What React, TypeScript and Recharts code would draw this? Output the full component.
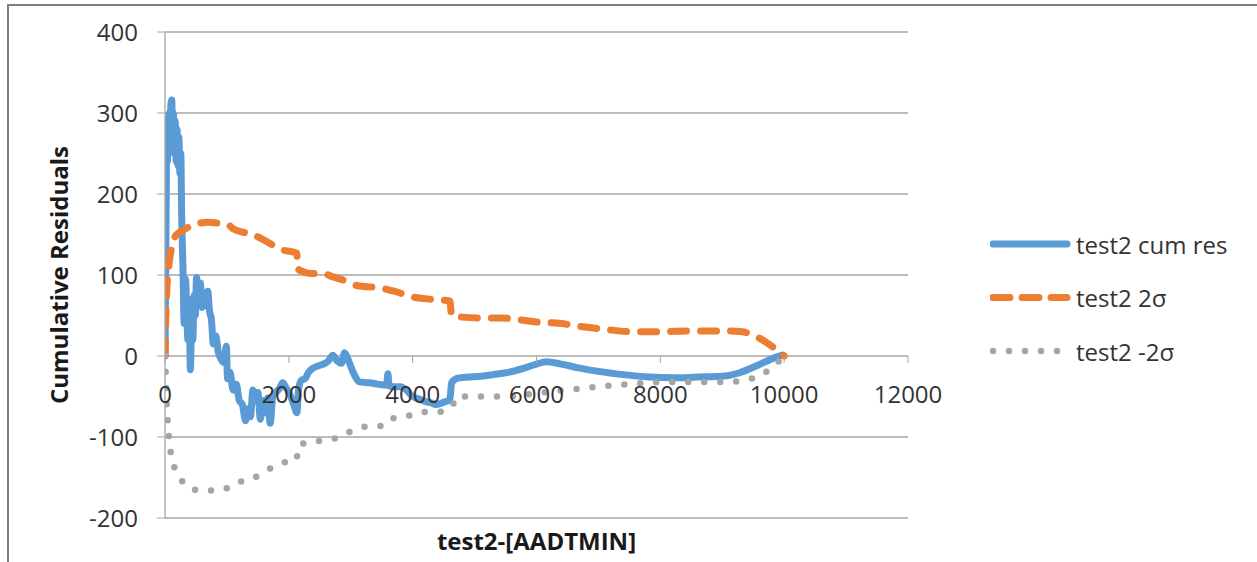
import React from "react";
import {
  LineChart,
  Line,
  XAxis,
  YAxis,
  CartesianGrid,
  Legend,
  ReferenceDot,
} from "recharts";

// cumulative residuals (blue)
const cumResX = [
  0, 10, 20, 30, 40, 50, 60, 70, 80, 95, 110, 120, 135, 150, 165, 180, 195, 210,
  225, 240, 255, 270, 290, 310, 330, 350, 370, 390, 410, 430, 450, 470, 490,
  510, 540, 570, 600, 630, 660, 690, 720, 750, 780, 820, 860, 900, 950, 990,
  1010, 1050, 1100, 1150, 1200, 1250, 1300, 1340, 1380, 1420, 1460, 1500, 1540,
  1580, 1620, 1660, 1700, 1740, 1790, 1850, 1900, 1960, 2020, 2080, 2130, 2160,
  2200, 2260, 2320, 2390, 2480, 2560, 2640, 2710, 2780, 2850, 2900, 2960, 3050,
  3140, 3300, 3450, 3580, 3600, 3620, 3700, 3800, 3900, 4000, 4100, 4200, 4300,
  4390, 4500, 4600, 4630, 4700, 4760, 4900, 5100, 5300, 5560, 5800, 6000, 6160,
  6400, 6700, 7000, 7400, 7820, 8200, 8600, 9000, 9270, 9500, 9700, 9850, 9970,
];
const cumResY = [
  0, 90, 200, 280, 240, 295, 250, 300, 260, 310, 316, 270, 300, 250, 290, 240,
  280, 235, 270, 225, 250, 170, 110, 40, 95, 60, 20, 70, -17, 40, 20, 75, 50,
  97, 70, 90, 60, 78, 62, 80, 55, 45, 15, 25, 5, -3, -8, 12, -28, -20, -42, -35,
  -55, -60, -80, -65, -75, -42, -55, -45, -78, -55, -70, -52, -83, -50, -45,
  -40, -33, -40, -48, -60, -70, -40, -30, -28, -20, -15, -12, -10, -6, 1, -6,
  -9, 4, -5, -22, -32, -33, -35, -36, -22, -37, -38, -38, -42, -50, -53, -56,
  -58, -60, -57, -54, -33, -28, -27, -26, -25, -23, -20, -15, -10, -7, -10, -15,
  -19, -23, -26, -27, -26, -25, -21, -14, -7, -2, 1,
];

// upper 2 sigma bound (orange)
const sigmaX = [
  0, 10, 30, 60, 80, 120, 160, 220, 290, 400, 560, 700, 850, 1000, 1100, 1250,
  1370, 1530, 1740, 1900, 2130, 2140, 2200, 2340, 2550, 2700, 2870, 3100, 3470,
  3700, 4000, 4300, 4600, 4630, 4800, 5100, 5400, 5700, 6000, 6400, 6750, 7100,
  7550, 8000, 8500, 9060, 9320, 9600, 9800, 10000,
];
const sigmaY = [
  0, 40, 81, 110, 122, 138, 147, 152, 155, 160, 164, 165, 164, 163, 157, 153,
  151, 146, 137, 131, 127, 108, 105, 102, 102, 98, 94, 87, 84, 80, 73, 70, 68,
  50, 48, 47, 47, 45, 42, 40, 36, 33, 30, 30, 31, 31, 30, 22, 12, 0,
];

// lower 2 sigma bound (grey)
const negSigmaX = [
  0, 10, 20, 40, 80, 130, 210, 320, 450, 700, 940, 1130, 1340, 1530, 1720, 1900,
  2130, 2140, 2340, 2610, 2820, 3060, 3270, 3550, 3680, 3920, 4160, 4400, 4630,
  4710, 4970, 5510, 6000, 6480, 7290, 8100, 9060, 9560, 9790, 10000,
];
const negSigmaY = [
  0, -17, -45, -75, -112, -132, -147, -158, -165, -166, -165, -157, -153, -147,
  -138, -132, -128, -112, -106, -104, -100, -91, -87, -86, -77, -74, -69, -69,
  -63, -50, -50, -50, -46, -42, -36, -32, -32, -26, -15, 0,
];

const xTicks = [0, 2000, 4000, 6000, 8000, 10000, 12000];
const yTicks = [-200, -100, 0, 100, 200, 300, 400];
const seriesNames = ["test2 cum res", "test2 2σ", "test2 -2σ"];

const seriesStyles = [
  { color: "#5b9bd5", width: 7, dash: undefined as string | undefined },
  { color: "#ed7d31", width: 7, dash: "16 14" },
  { color: "#a5a5a5", width: 6.5, dash: "0 16" },
];

const toPoints = (xs: number[], ys: number[]) =>
  xs.map((x, i) => ({ x, y: ys[i] }));

const seriesData = [
  toPoints(cumResX, cumResY),
  toPoints(sigmaX, sigmaY),
  toPoints(negSigmaX, negSigmaY),
];

const gridColor = "#a6a6a6";
const textColor = "#333333";

const LegendBox = () => (
  <svg width={267} height={162} style={{ display: "block" }}>
    {seriesNames.map((name, i) => {
      const s = seriesStyles[i];
      const cy = 26 + i * 53.5;
      return (
        <g key={name}>
          <line
            x1={3}
            x2={77}
            y1={cy}
            y2={cy}
            stroke={s.color}
            strokeWidth={s.width}
            strokeDasharray={i === 1 ? "17 12" : s.dash}
            strokeLinecap="round"
          />
          <text
            x={86}
            y={cy}
            dominantBaseline="central"
            fontSize={24}
            fill={textColor}
          >
            {name}
          </text>
        </g>
      );
    })}
  </svg>
);

const XTickAtZero = (value: number) => (props: any) => {
  const { cx, cy } = props;
  return (
    <g>
      <line x1={cx} x2={cx} y1={cy} y2={cy + 7} stroke={gridColor} />
      <text
        x={cx}
        y={cy + 47}
        textAnchor="middle"
        fontSize={24}
        fill={textColor}
      >
        {value}
      </text>
    </g>
  );
};

export default function App() {
  return (
    <div style={{ fontFamily: "'Open Sans', sans-serif" }}>
      <div
        style={{
          position: "absolute",
          left: 7,
          top: 4,
          width: 1248,
          height: 556,
          borderTop: "2px solid #7f7f7f",
          borderLeft: "2px solid #7f7f7f",
        }}
      />
      <div style={{ position: "absolute", left: 0, top: 0 }}>
        <LineChart
          width={1257}
          height={562}
          margin={{ top: 32, right: 82, bottom: 0, left: 0 }}
        >
          <CartesianGrid
            vertical={false}
            stroke={gridColor}
            strokeWidth={1.3}
          />
          <XAxis
            type="number"
            dataKey="x"
            domain={[0, 12000]}
            ticks={xTicks}
            allowDataOverflow
            height={44}
            axisLine={false}
            tickLine={false}
            tick={false}
            label={{
              value: "test2-[AADTMIN]",
              position: "insideBottom",
              offset: 12,
              style: { fontSize: 24, fontWeight: 700, fill: "#1a1a1a" },
            }}
          />
          <YAxis
            type="number"
            domain={[-200, 400]}
            ticks={yTicks}
            width={165}
            tickSize={8}
            tickMargin={19}
            axisLine={{ stroke: gridColor, strokeWidth: 1.3 }}
            tickLine={{ stroke: gridColor }}
            tick={{ fontSize: 24, fill: textColor }}
            label={{
              value: "Cumulative Residuals",
              angle: -90,
              position: "insideLeft",
              offset: 59,
              style: {
                textAnchor: "middle",
                fontSize: 24,
                fontWeight: 700,
                fill: "#1a1a1a",
              },
            }}
          />
          {xTicks.map((t) => (
            <ReferenceDot
              key={t}
              x={t}
              y={0}
              r={0}
              ifOverflow="visible"
              shape={XTickAtZero(t)}
            />
          ))}
          {seriesNames.map((name, i) => (
            <Line
              key={name}
              name={name}
              data={seriesData[i]}
              dataKey="y"
              type="monotone"
              stroke={seriesStyles[i].color}
              strokeWidth={seriesStyles[i].width}
              strokeDasharray={seriesStyles[i].dash}
              strokeLinecap="round"
              strokeLinejoin="round"
              dot={false}
              activeDot={false}
              isAnimationActive={false}
            />
          ))}
          <Legend
            layout="vertical"
            align="right"
            verticalAlign="top"
            content={() => <LegendBox />}
            wrapperStyle={{ left: 990, top: 218 }}
          />
        </LineChart>
      </div>
    </div>
  );
}
